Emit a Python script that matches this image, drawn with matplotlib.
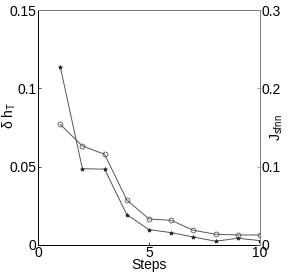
import numpy as np
import matplotlib.pyplot as plt

plt.rcParams["font.family"] = ["Liberation Sans", "DejaVu Sans"]
plt.rcParams["mathtext.fontset"] = "custom"
plt.rcParams["mathtext.rm"] = "Liberation Sans"
plt.rcParams["mathtext.it"] = "Liberation Sans"

steps = [1, 2, 3, 4, 5, 6, 7, 8, 9, 10]
delta_h = [0.1139, 0.0487, 0.0484, 0.0194, 0.0098, 0.0079, 0.0051, 0.0024, 0.0043, 0.0028]
j_sfnn = [0.154, 0.1264, 0.1158, 0.0575, 0.0332, 0.0315, 0.0188, 0.0137, 0.0128, 0.0128]

fig = plt.figure(figsize=(2.91, 2.77), dpi=100)
ax1 = fig.add_axes([38 / 291, 1 - 245 / 277, 222 / 291, 235 / 277])
ax2 = ax1.twinx()

line_col = "#555555"
ax1.plot(steps, delta_h, color=line_col, lw=0.7, marker="*", ms=3,
         mfc="#222222", mec="#222222", mew=0.5)
ax2.plot(steps, j_sfnn, color=line_col, lw=0.7, marker="o", ms=3.5,
         mfc="none", mec=line_col, mew=0.6)

ax1.set_xlim(0, 10)
ax1.set_ylim(0, 0.15)
ax2.set_ylim(0, 0.3)
ax1.set_xticks([0, 5, 10])
ax1.set_yticks([0, 0.05, 0.1, 0.15])
ax1.set_yticklabels(["0", "0.05", "0.1", "0.15"])
ax2.set_yticks([0, 0.1, 0.2, 0.3])
ax2.set_yticklabels(["0", "0.1", "0.2", "0.3"])

for ax in (ax1, ax2):
    ax.tick_params(direction="in", length=2.5, width=0.5, labelsize=10, pad=1)
ax2.tick_params(colors="#808080", labelcolor="black")

ax1.spines["left"].set_color("black")
ax1.spines["bottom"].set_color("black")
ax2.spines["right"].set_color("#808080")
ax2.spines["top"].set_color("#808080")
ax2.spines["left"].set_visible(False)
ax2.spines["bottom"].set_visible(False)
for ax in (ax1, ax2):
    for s in ax.spines.values():
        s.set_linewidth(0.7)

ax1.set_xlabel("Steps", fontsize=10, labelpad=-2)
ax1.set_ylabel(r"$\delta$ h$_T$", fontsize=10)
ax2.set_ylabel(r"J$_{\mathrm{sfnn}}$", fontsize=10, rotation=90)
ax1.yaxis.set_label_coords(-0.088, 0.55)
ax2.yaxis.set_label_coords(1.04, 0.5)

fig.savefig("out.png", dpi=100)
